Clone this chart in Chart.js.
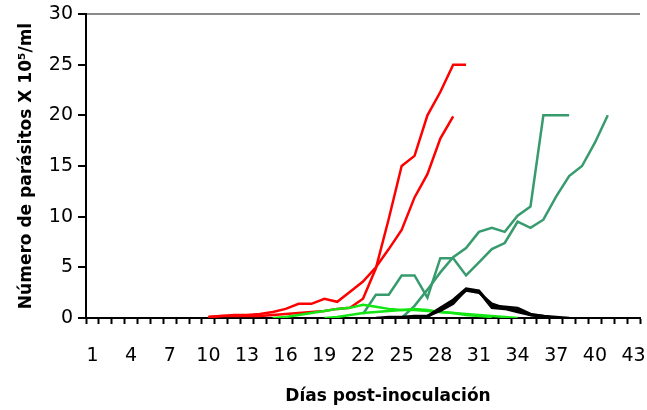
<!DOCTYPE html>
<html>
<head>
<meta charset="utf-8">
<script src="https://cdn.jsdelivr.net/npm/chart.js@4.4.0/dist/chart.umd.min.js"></script>
<style>
  body { margin: 0; background: #fff; }
  #wrap { width: 647px; height: 410px; }
</style>
</head>
<body>
<div id="wrap"><canvas id="chart" width="647" height="410"></canvas></div>
<script>
// ---------- DATA ----------
const days = [];
for (let d = 1; d <= 43; d++) days.push(String(d));

// each series: first day with a value, then the daily values
const red1Start = 10;
const red1 = [0.1, 0.2, 0.2, 0.2, 0.2, 0.3, 0.4, 0.5, 0.6, 0.7, 0.9, 1.0, 1.9, 4.9, 9.8, 15, 16, 20, 22.3, 25, 25];
const red2Start = 10;
const red2 = [0.1, 0.2, 0.3, 0.3, 0.4, 0.6, 0.9, 1.4, 1.4, 1.9, 1.6, 2.6, 3.6, 5, 6.8, 8.7, 11.9, 14.2, 17.7, 19.9];

const tealAStart = 22;
const tealA = [0.4, 2.3, 2.3, 4.2, 4.2, 2.0, 5.9, 5.9, 4.2, 5.5, 6.8, 7.4, 9.5, 8.9, 9.7, 12, 14, 15, 17.3, 20];
const tealBStart = 25;
const tealB = [0, 1.2, 2.8, 4.5, 6, 6.9, 8.5, 8.9, 8.5, 10.1, 11, 20, 20, 20];

const green1Start = 15;
const green1 = [0, 0.1, 0.3, 0.5, 0.7, 0.9, 1.0, 1.3, 1.1, 0.9, 0.8, 0.8, 0.7, 0.6, 0.5, 0.4, 0.3, 0.2, 0.1, 0];
const green2Start = 19;
const green2 = [0, 0.1, 0.3, 0.5, 0.6, 0.7, 0.8, 0.9, 0.8, 0.6, 0.5, 0.3, 0.2, 0.1];

const black1Start = 23;
const black1 = [0, 0.1, 0.1, 0.2, 0.2, 1.0, 1.8, 2.9, 2.7, 1.2, 1.1, 1.0, 0.4, 0.2, 0.1, 0];
const black2Start = 26;
const black2 = [0, 0.2, 0.7, 1.4, 2.8, 2.6, 1.0, 0.9, 0.6, 0.3, 0.2, 0];
const black3Start = 27;
const black3 = [0.1, 0.9, 1.6, 2.7, 2.5, 1.4, 1.0, 0.8, 0.3, 0.1];

const yTicks = [0, 5, 10, 15, 20, 25, 30];
const xTitle = 'Días post-inoculación';
const yTitle = 'Número de parásitos X 10⁵/ml';

// ---------- HELPERS ----------
// place a series on the 43-day axis, null where there is no measurement
function onAxis(start, values) {
    const out = days.map(() => null);
    values.forEach((v, i) => { out[start - 1 + i] = v; });
    return out;
}

function line(data, color) {
    return {
        data: data,
        borderColor: color,
        borderWidth: 2.5,
        pointRadius: 0,
        tension: 0,
        fill: false,
        spanGaps: false
    };
}

const RED = '#FF0000';
const TEAL = '#379B6E';
const GREEN = '#14E614';
const BLACK = '#000000';
const FONT = 'DejaVu Sans, Arial';

// x axis title sits right of the plot centre in the original, so draw it by hand
const xTitlePlugin = {
    id: 'xTitle',
    afterDraw(chart) {
        const c = chart.ctx;
        c.save();
        c.font = 'bold 17px ' + FONT;
        c.fillStyle = '#000';
        c.textAlign = 'center';
        c.textBaseline = 'middle';
        c.fillText(xTitle, 388, 397);
        c.restore();
    }
};

// ---------- CHART ----------
const ctx = document.getElementById('chart').getContext('2d');
new Chart(ctx, {
    type: 'line',
    data: {
        labels: days,
        datasets: [
            line(onAxis(black1Start, black1), BLACK),
            line(onAxis(black2Start, black2), BLACK),
            line(onAxis(black3Start, black3), BLACK),
            line(onAxis(green1Start, green1), GREEN),
            line(onAxis(green2Start, green2), GREEN),
            line(onAxis(tealAStart, tealA), TEAL),
            line(onAxis(tealBStart, tealB), TEAL),
            line(onAxis(red1Start, red1), RED),
            line(onAxis(red2Start, red2), RED)
        ]
    },
    plugins: [xTitlePlugin],
    options: {
        responsive: false,
        animation: false,
        devicePixelRatio: 1,
        layout: { padding: { top: 14, right: 7, left: 0, bottom: 0 } },
        plugins: {
            legend: { display: false },
            tooltip: { enabled: false }
        },
        scales: {
            x: {
                type: 'category',
                offset: true,
                grid: {
                    offset: true,
                    drawOnChartArea: false,
                    tickLength: 6,
                    tickColor: '#000',
                    tickWidth: 2
                },
                border: { display: true, color: '#000', width: 2 },
                ticks: {
                    autoSkip: false,
                    maxRotation: 0,
                    padding: 21,
                    color: '#000',
                    font: { family: FONT, size: 19 },
                    callback: function(value, index) {
                        return index % 3 === 0 ? days[index] : '';
                    }
                },
                title: { display: false },
                afterFit: function(scale) {
                    scale.height = 92;
                    scale.paddingLeft = 0;
                    scale.paddingRight = 0;
                }
            },
            y: {
                min: 0,
                max: 30,
                afterBuildTicks: function(scale) {
                    scale.ticks = yTicks.map(v => ({ value: v }));
                },
                grid: {
                    drawOnChartArea: true,
                    color: c => (c.tick && c.tick.value === 30) ? '#8a8a8a' : 'rgba(0,0,0,0)',
                    lineWidth: 2,
                    tickLength: 8,
                    tickColor: '#000',
                    tickWidth: 2
                },
                border: { display: true, color: '#000', width: 2 },
                ticks: {
                    padding: 5,
                    color: '#000',
                    font: { family: FONT, size: 19 }
                },
                title: {
                    display: true,
                    text: yTitle,
                    color: '#000',
                    font: { family: FONT, size: 17, weight: 'bold' },
                    padding: { top: 16, bottom: 0 }
                },
                afterFit: function(scale) {
                    scale.width = 86;
                    scale.paddingTop = 0;
                    scale.paddingBottom = 0;
                }
            }
        }
    }
});
</script>
</body>
</html>
